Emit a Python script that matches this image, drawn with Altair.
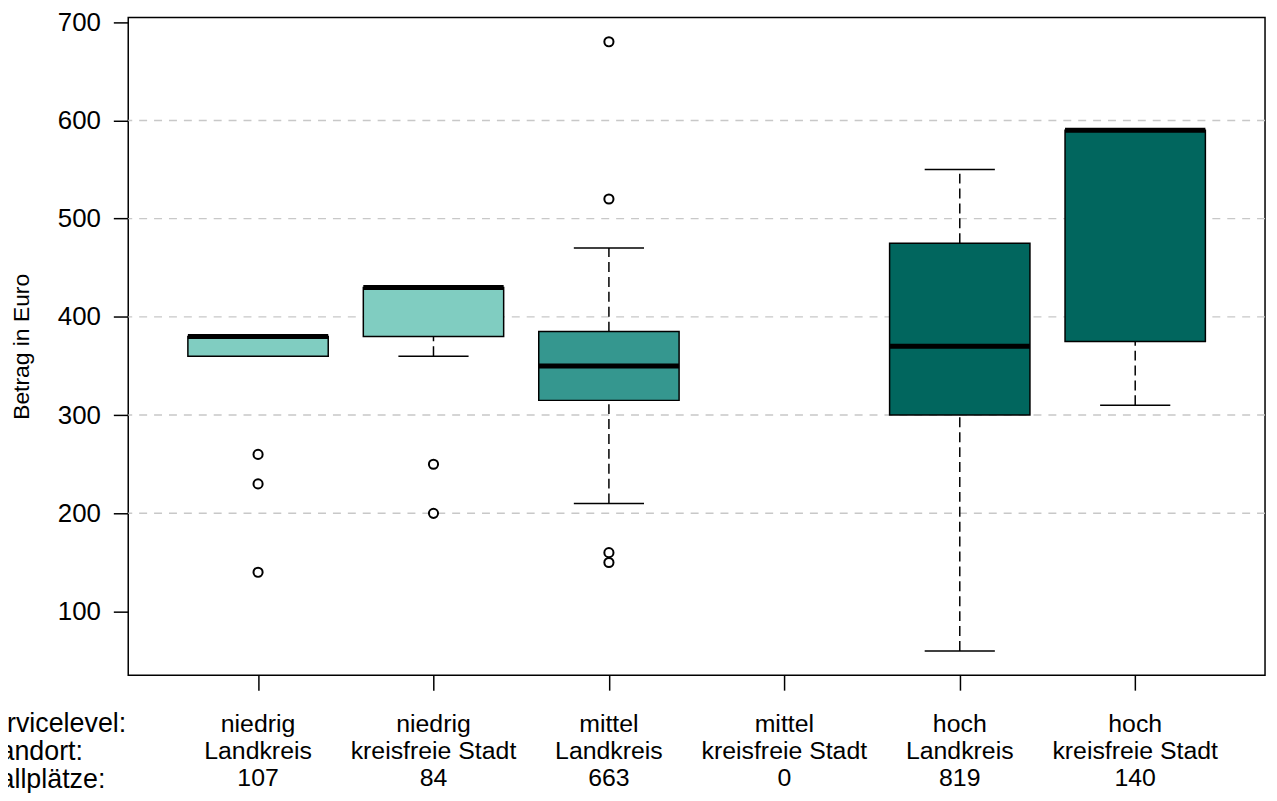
import altair as alt
import pandas as pd

# ---- data ----
cat_pos = [1, 2, 3, 4, 5, 6]
cat_level = ["niedrig", "niedrig", "mittel", "mittel", "hoch", "hoch"]
cat_place = ["Landkreis", "kreisfreie Stadt", "Landkreis", "kreisfreie Stadt", "Landkreis", "kreisfreie Stadt"]
cat_count = [107, 84, 663, 0, 819, 140]

box_pos = [1, 2, 3, 5, 6]
box_level = ["niedrig", "niedrig", "mittel", "hoch", "hoch"]
box_lo = [360, 360, 210, 60, 310]
box_q1 = [360, 380, 315, 300, 375]
box_med = [380, 430, 350, 370, 590]
box_q3 = [380, 430, 385, 475, 590]
box_hi = [380, 430, 470, 550, 590]

out_pos = [1, 1, 1, 2, 2, 3, 3, 3, 3]
out_val = [260, 230, 140, 250, 200, 680, 520, 160, 150]

grid_vals = [200, 300, 400, 500, 600]
y_ticks = [100, 200, 300, 400, 500, 600, 700]
row_headers = ["Servicelevel:", "Standort:", "Stallplätze:"]

levels = ["niedrig", "mittel", "hoch"]
level_colors = ["#80CDC1", "#35978F", "#01665E"]

FONT = "Liberation Sans"
W, H = 1144, 662

boxes = pd.DataFrame(dict(pos=box_pos, level=box_level, lo=box_lo, q1=box_q1,
                          med=box_med, q3=box_q3, hi=box_hi))
outs = pd.DataFrame(dict(pos=out_pos, val=out_val))
cats = pd.DataFrame(dict(pos=cat_pos, level=cat_level, place=cat_place, count=cat_count))
cats["label"] = cats["level"] + "\n" + cats["place"] + "\n" + cats["count"].astype(str)
grid = pd.DataFrame(dict(v=grid_vals))
hdr = pd.DataFrame(dict(t=["\n".join(row_headers)]))

xscale = alt.Scale(domain=[0.26, 6.74], nice=False, zero=False)
yscale = alt.Scale(domain=[35.2, 704.8], nice=False, zero=False)

xax = alt.Axis(values=cat_pos, labels=False, title=None, grid=False, domain=False,
               tickSize=15, tickColor="black", tickWidth=1.5)
yax = alt.Axis(values=y_ticks, title="Betrag in Euro", grid=False, domain=False,
               tickSize=15, tickColor="black", tickWidth=1.5, labelFont=FONT,
               labelFontSize=26, labelColor="black", labelPadding=13,
               titleFont=FONT, titleFontSize=23, titleFontWeight="normal",
               titleColor="black", titlePadding=24)

gridl = alt.Chart(grid).mark_rule(color="#c8c8c8", strokeWidth=1.5, strokeDash=[8, 7]).encode(
    y=alt.Y("v:Q", scale=yscale, axis=yax)
)

base = alt.Chart(boxes).transform_calculate(
    bl="datum.pos - 0.4", br="datum.pos + 0.4",
    sl="datum.pos - 0.2", sr="datum.pos + 0.2"
)

wl = base.mark_rule(color="black", strokeWidth=1.5, strokeDash=[10, 5]).encode(
    x=alt.X("pos:Q", scale=xscale, axis=xax), y=alt.Y("lo:Q", scale=yscale), y2="q1:Q")
wh = base.mark_rule(color="black", strokeWidth=1.5, strokeDash=[10, 5]).encode(
    x=alt.X("pos:Q", scale=xscale), y=alt.Y("q3:Q", scale=yscale), y2="hi:Q")
sl = base.mark_rule(color="black", strokeWidth=1.5).encode(
    x=alt.X("sl:Q", scale=xscale), x2="sr:Q", y=alt.Y("lo:Q", scale=yscale))
sh = base.mark_rule(color="black", strokeWidth=1.5).encode(
    x=alt.X("sl:Q", scale=xscale), x2="sr:Q", y=alt.Y("hi:Q", scale=yscale))
rect = base.mark_rect(stroke="black", strokeWidth=1.5).encode(
    x=alt.X("bl:Q", scale=xscale), x2="br:Q",
    y=alt.Y("q1:Q", scale=yscale), y2="q3:Q",
    fill=alt.Fill("level:N", scale=alt.Scale(domain=levels, range=level_colors), legend=None))
med = base.mark_rule(color="black", strokeWidth=5).encode(
    x=alt.X("bl:Q", scale=xscale), x2="br:Q", y=alt.Y("med:Q", scale=yscale))

pts = alt.Chart(outs).mark_point(shape="circle", filled=False, color="black",
                                 strokeWidth=2, size=85, opacity=1).encode(
    x=alt.X("pos:Q", scale=xscale), y=alt.Y("val:Q", scale=yscale))

labels = alt.Chart(cats).mark_text(font=FONT, fontSize=25, color="black", align="center",
                                   baseline="top", lineBreak="\n", lineHeight=27).encode(
    x=alt.X("pos:Q", scale=xscale), y=alt.value(H + 37), text="label:N")

headers = alt.Chart(hdr).mark_text(font=FONT, fontSize=27, color="black", align="left",
                                   baseline="top", lineBreak="\n", lineHeight=28).encode(
    x=alt.value(-155), y=alt.value(H + 36), text="t:N")

chart = alt.layer(gridl, wl, wh, sl, sh, rect, med, pts, labels, headers).properties(
    width=W, height=H, background="white",
    autosize=alt.AutoSizeParams(type="none"),
    padding={"left": 121, "top": 7, "right": 4, "bottom": 116},
).configure_view(stroke="black", strokeWidth=1.5)

chart.save("out.html", embed_options={"renderer": "svg", "actions": False})
